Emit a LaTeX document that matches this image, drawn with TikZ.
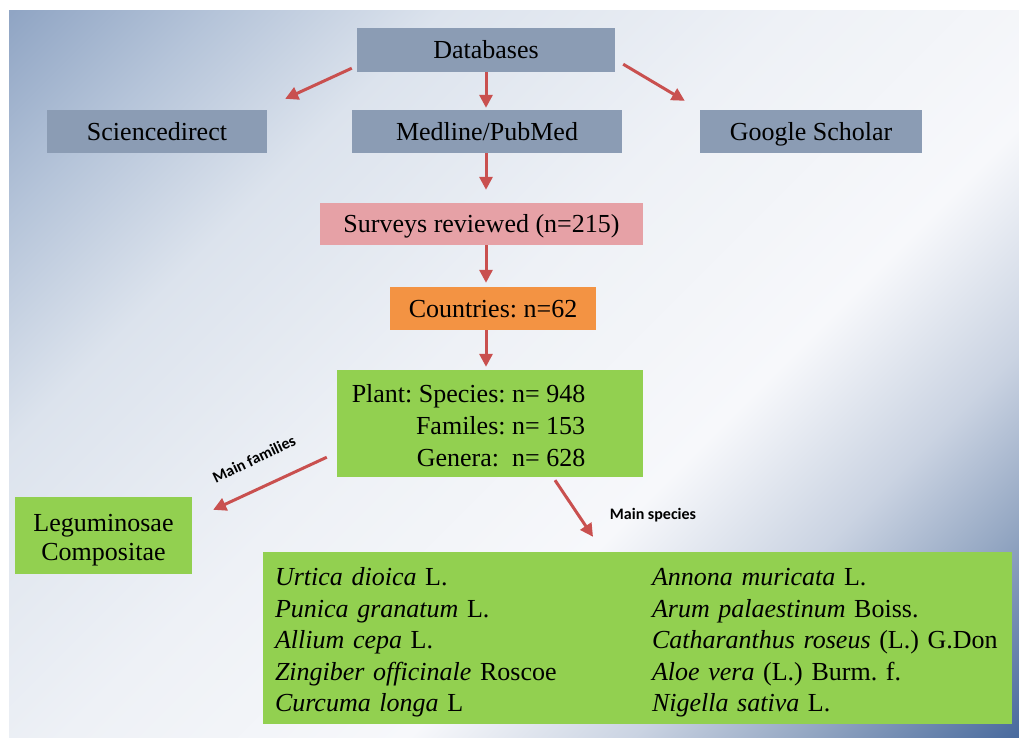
\documentclass[tikz,border=0pt]{standalone}
\usepackage{fontspec}
\setmainfont{Liberation Serif}
\newfontfamily\labfont{Carlito}
\usetikzlibrary{arrows.meta,calc}
\definecolor{bgA}{HTML}{90A5C4}
\definecolor{bgB}{HTML}{B5C4D9}
\definecolor{bgC}{HTML}{DCE3ED}
\definecolor{bgD}{HTML}{EEF1F6}
\definecolor{bgE}{HTML}{F7F8FB}
\definecolor{bgF}{HTML}{CAD3E2}
\definecolor{bgG}{HTML}{93A6C2}
\definecolor{bgH}{HTML}{4A6B9E}
\definecolor{boxgrey}{HTML}{8B9CB4}
\definecolor{boxpink}{HTML}{E6A1A6}
\definecolor{boxorange}{HTML}{F39343}
\definecolor{boxgreen}{HTML}{92D050}
\definecolor{arrred}{HTML}{C9504F}
\pgfdeclarehorizontalshading{bgsh}{100bp}{color(0bp)=(bgA); color(14.64bp)=(bgA); color(23bp)=(bgB); color(32.3bp)=(bgC); color(46.5bp)=(bgD); color(60.6bp)=(bgE); color(69.8bp)=(bgF); color(76.9bp)=(bgG); color(85.36bp)=(bgH); color(100bp)=(bgH)}
\tikzset{
  box/.style={rectangle, inner sep=0pt, text=black, font=\fontsize{26}{31}\selectfont},
  onel/.style={text height=17pt, text depth=0pt},
  gbox/.style={box, onel, fill=boxgrey},
  grbox/.style={box, fill=boxgreen},
  arr/.style={draw=arrred, line width=3pt, -{Triangle[length=13pt,width=13pt]}},
  lab/.style={font=\labfont\bfseries\fontsize{16}{18}\selectfont, text=black, inner sep=0pt}
}
\begin{document}
\frenchspacing
\begin{tikzpicture}[x=1pt,y=-1pt]
\useasboundingbox (0,0) rectangle (1019,737);
\fill[white] (0,0) rectangle (1019,737);
\shade[shading=bgsh, shading angle=-45] (9,10) rectangle (1019,737);

\node[gbox, minimum width=258pt, minimum height=44pt] (db) at (486,50) {Databases};
\node[gbox, minimum width=220pt, minimum height=43pt] (sd) at (157,131.5) {Sciencedirect};
\node[gbox, minimum width=270pt, minimum height=43pt] (med) at (487,131.5) {Medline/PubMed};
\node[gbox, minimum width=222pt, minimum height=43pt] (gs) at (811,131.5) {Google Scholar};
\node[box, onel, fill=boxpink, minimum width=323pt, minimum height=42pt] (sur) at (481.5,224) {Surveys reviewed (n=215)};
\node[box, onel, fill=boxorange, minimum width=206pt, minimum height=43pt] (cty) at (493,308.5) {Countries: n=62};
\node[grbox, minimum width=306pt, minimum height=107pt, font=\fontsize{26}{32}\selectfont] (plant) at (490,423.5)
  {\begin{tabular}{@{}r@{}}\rule{0pt}{32.4pt}Plant: Species: n= 948\\ Familes: n= 153\\ Genera:\ \ n= 628\end{tabular}\hspace*{43pt}};
\node[grbox, minimum width=177pt, minimum height=77pt, align=center, font=\fontsize{26}{29}\selectfont] (leg) at (103.5,535.5)
  {\rule{0pt}{26pt}Leguminosae\\Compositae};
\node[grbox, minimum height=172pt, text width=725pt, inner xsep=12pt, align=left, font=\fontsize{26}{31.5}\selectfont] (spec) at (637.5,638)
  {\begin{tabular}{@{}p{377pt}@{}l@{}}
  \rule{0pt}{31pt}\textit{Urtica dioica} L. & \textit{Annona muricata} L.\\
  \textit{Punica granatum} L. & \textit{Arum palaestinum} Boiss.\\
  \textit{Allium cepa} L. & \textit{Catharanthus roseus} (L.) G.Don\\
  \textit{Zingiber officinale} Roscoe & \textit{Aloe vera} (L.) Burm. f.\\
  \textit{Curcuma longa} L & \textit{Nigella sativa} L.
  \end{tabular}};

\node[lab, rotate=25.5] (mf) at (254,459) {Main families};
\node[lab] (ms) at (653,515) {Main species};

\draw[arr] ([shift={(-5,-4)}]db.south west) -- ([shift={(18,-11)}]sd.north east);
\draw[arr] (db.south) -- ([shift={(0,-2)}]db.south |- med.north);
\draw[arr] ([shift={(8,-8)}]db.south east) -- ([shift={(-15,-9)}]gs.north west);
\draw[arr] ([shift={(-1,0)}]med.south) -- ([shift={(-1,-13)}]med.south |- sur.north);
\draw[arr] ([shift={(4.5,0)}]sur.south) -- ([shift={(-7,-4)}]cty.north);
\draw[arr] ([shift={(-7,0)}]cty.south) -- ([shift={(-4,-3)}]plant.north);
\draw[arr] ([shift={(-10,-20)}]plant.south west) -- ([shift={(21,13)}]leg.north east);
\draw[arr] ([shift={(65,3)}]plant.south) -- ([shift={(-44.5,-15)}]spec.north);
\end{tikzpicture}
\end{document}
